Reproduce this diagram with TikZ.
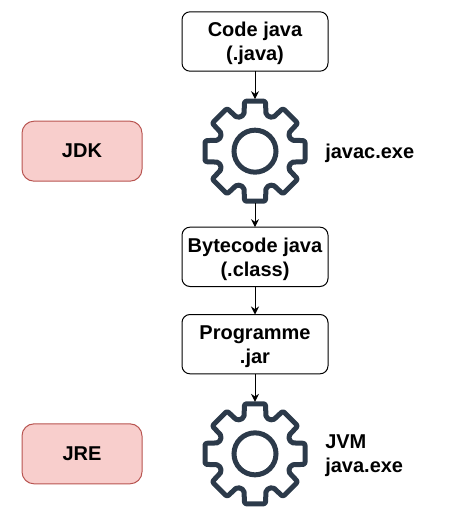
\documentclass[tikz,border=0pt]{standalone}
\usepackage{fontspec}
\setmainfont{Liberation Sans}
\usetikzlibrary{positioning, arrows.meta}

\newcommand{\geartooth}[1]{%
    -- ([rotate=#1]36,-11) -- ([rotate=#1]50,-10.5)
    -- ([rotate=#1]50,10.5) -- ([rotate=#1]36,11)}

\begin{document}
\begin{tikzpicture}[
    x=0.75pt, y=-0.75pt,
    font=\fontsize{15}{18}\selectfont\bfseries,
    stage/.style={
        rectangle, rounded corners=6pt,
        draw=black, line width=0.75pt, fill=white,
        minimum width=109.5pt, minimum height=44.5pt,
        align=center, inner sep=0pt, outer sep=0pt,
        text depth=0pt,
    },
    tool/.style={
        rectangle, rounded corners=9pt,
        draw=toolline, line width=0.75pt, fill=toolfill,
        minimum width=90pt, minimum height=45pt,
        inner sep=0pt, outer sep=0pt,
    },
    wheel/.style={circle, minimum size=78pt, inner sep=0pt, outer sep=0pt},
    caption/.style={align=left, inner sep=0pt, text depth=0pt},
    flow/.style={-{Stealth[length=6pt, width=6pt]}, draw=black, line width=0.75pt},
    gearicon/.pic={
        \draw[draw=gearline, line width=3.75pt, line join=round, rounded corners=1.5pt]
            (-36,11) -- (-50,10.5) -- (-50,-10.5) -- (-36,-11)
            \geartooth{135} \geartooth{90} \geartooth{45} \geartooth{0}
            \geartooth{315} \geartooth{270} \geartooth{225} -- cycle;
        \draw[draw=gearline, line width=3.75pt] (0,0) circle (21);
    },
]
\definecolor{toolfill}{HTML}{F8CECC}
\definecolor{toolline}{HTML}{B85450}
\definecolor{gearline}{HTML}{2C3A4A}

\useasboundingbox (0,0) rectangle (458,521);

% --- Main column ---
\node[stage] at (255,41.5) (code) {Code java\\(.java)};
\node[wheel, below=21pt of code] (javac) {};
\node[stage, below=18pt of javac] (bytecode) {Bytecode java\\(.class)};
\node[stage, below=21pt of bytecode] (jar) {Programme\\.jar};
\node[wheel, below=21pt of jar] (jvm) {};

% --- Gears ---
\pic at (javac) {gearicon};
\pic at (jvm) {gearicon};

% --- Left tags ---
\node[tool, left=45.75pt of javac] (jdk) {JDK};
\node[tool, left=45.75pt of jvm] (jre) {JRE};

% --- Gear captions ---
\node[caption, right=13.5pt of javac] (javaclabel) {javac.exe};
\node[caption, right=13.5pt of jvm] (jvmlabel) {JVM\\java.exe};

% --- Flow arrows ---
\foreach \s/\t in {code/javac, javac/bytecode, bytecode/jar, jar/jvm}{
    \draw[flow] (\s.south) -- (\t.north);
}

\end{tikzpicture}
\end{document}
